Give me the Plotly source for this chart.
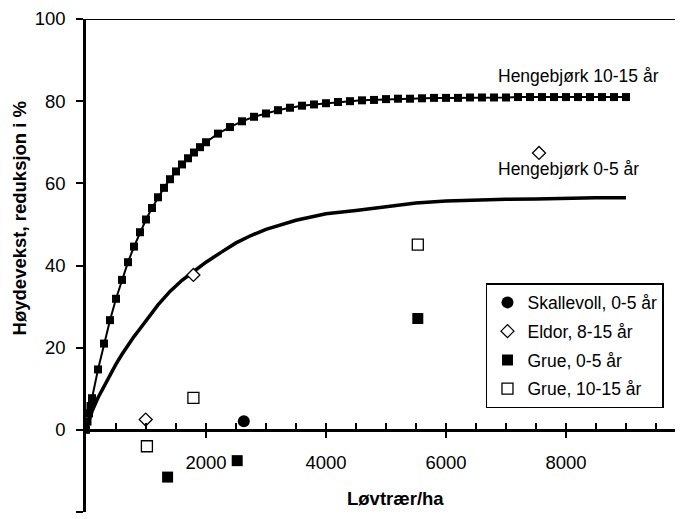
import plotly.graph_objects as go

# Hengebjørk 10-15 år (line with square markers)
x_upper = [0, 25, 50, 75, 100, 200, 300, 400, 500, 600, 700, 800, 900, 1000,
           1100, 1200, 1300, 1400, 1500, 1600, 1700, 1800, 1900, 2000,
           2200, 2400, 2600, 2800, 3000, 3200, 3400, 3600, 3800, 4000,
           4200, 4400, 4600, 4800, 5000, 5200, 5400, 5600, 5800, 6000,
           6200, 6400, 6600, 6800, 7000, 7200, 7400, 7600, 7800, 8000,
           8200, 8400, 8600, 8800, 9000]
y_upper = [0, 2.0, 4.0, 5.8, 7.7, 14.7, 21.0, 26.7, 31.9, 36.5, 40.8, 44.6, 48.1, 51.2,
           54.0, 56.6, 58.9, 61.0, 62.9, 64.6, 66.1, 67.5, 68.8, 70.0,
           72.1, 73.7, 75.1, 76.2, 77.0, 77.8, 78.4, 78.9, 79.2, 79.5,
           79.8, 80.0, 80.2, 80.3, 80.5, 80.6, 80.6, 80.7, 80.8, 80.8,
           80.8, 80.9, 80.9, 80.9, 80.9, 81.0, 81.0, 81.0, 81.0, 81.0,
           81.0, 81.0, 81.0, 81.0, 81.0]

# Hengebjørk 0-5 år (thick line)
x_lower = [0, 100, 200, 300, 400, 500, 600, 700, 800, 900, 1000, 1200, 1400, 1600,
           1800, 2000, 2250, 2500, 2750, 3000, 3500, 4000, 4500, 5000, 5500, 6000,
           6500, 7000, 7500, 8000, 8500, 9000]
y_lower = [0, 4.5, 7.8, 10.6, 13.4, 16.0, 18.4, 20.6, 22.7, 24.6, 26.6, 30.4, 33.7, 36.4,
           38.6, 40.8, 43.2, 45.5, 47.3, 48.8, 51.0, 52.6, 53.4, 54.2, 55.2, 55.7,
           56.0, 56.1, 56.2, 56.4, 56.5, 56.5]

# Observations
skallevoll_x = [2630]
skallevoll_y = [2.1]
eldor_x = [995, 1790, 7550]
eldor_y = [2.5, 37.7, 67.4]
grue05_x = [1360, 2520, 5530]
grue05_y = [-11.5, -7.5, 27.1]
grue1015_x = [1015, 1790, 5530]
grue1015_y = [-4.0, 7.8, 45.1]

x_major_ticks = [2000, 4000, 6000, 8000]

FONT = "Liberation Sans, Arial, sans-serif"

fig = go.Figure()
fig.add_trace(go.Scatter(x=x_upper, y=y_upper, mode="lines+markers",
                         line=dict(color="black", width=2),
                         marker=dict(symbol="square", size=8, color="black"),
                         showlegend=False, hoverinfo="skip"))
fig.add_trace(go.Scatter(x=x_lower, y=y_lower, mode="lines",
                         line=dict(color="black", width=3.5),
                         showlegend=False, hoverinfo="skip"))
fig.add_trace(go.Scatter(x=skallevoll_x, y=skallevoll_y, mode="markers",
                         name="Skallevoll, 0-5 år", legendgroup="a",
                         marker=dict(symbol="circle", size=12, color="black")))
fig.add_trace(go.Scatter(x=eldor_x, y=eldor_y, mode="markers",
                         name="Eldor, 8-15 år", legendgroup="b",
                         marker=dict(symbol="diamond", size=10, color="white",
                                     line=dict(color="black", width=1.3))))
fig.add_trace(go.Scatter(x=grue05_x, y=grue05_y, mode="markers",
                         name="Grue, 0-5 år", legendgroup="c",
                         marker=dict(symbol="square", size=11, color="black")))
fig.add_trace(go.Scatter(x=grue1015_x, y=grue1015_y, mode="markers",
                         name="Grue, 10-15 år", legendgroup="d",
                         marker=dict(symbol="square", size=11, color="white",
                                     line=dict(color="black", width=1.3))))
# empty trace so the overlay axis (upper half of crossing major ticks) exists
fig.add_trace(go.Scatter(x=[], y=[], xaxis="x2", showlegend=False, hoverinfo="skip"))

xmax = 9950
fig.update_layout(
    width=675, height=511,
    margin=dict(l=78, r=0, t=11, b=7),
    paper_bgcolor="white", plot_bgcolor="white",
    font=dict(family=FONT, color="black"),
    xaxis=dict(range=[0, xmax], showline=True, linewidth=2.5, linecolor="black",
               anchor="free", position=1/6,
               tickvals=x_major_ticks, ticks="outside", ticklen=6, tickwidth=2,
               tickcolor="black",
               minor=dict(tick0=0, dtick=500, ticks="inside", ticklen=6,
                          tickwidth=1.5, tickcolor="black", showgrid=False),
               showgrid=False, zeroline=False,
               tickfont=dict(size=18.5, family=FONT, color="black"),
               ticklabelstandoff=9),
    xaxis2=dict(range=[0, xmax], overlaying="x", anchor="free", position=1/6,
                showline=False, tickvals=x_major_ticks, ticks="inside", ticklen=6,
                tickwidth=2, tickcolor="black", showticklabels=False,
                showgrid=False, zeroline=False),
    yaxis=dict(range=[-20, 100], tick0=0, dtick=20, showline=True, linewidth=2.5,
               linecolor="black", ticks="outside", ticklen=7, tickwidth=2,
               tickcolor="black", showgrid=False, zeroline=False,
               tickfont=dict(size=18.5, family=FONT, color="black"),
               ticklabelstandoff=7),
    legend=dict(x=0.67, y=0.4645, xanchor="left", yanchor="top",
                bordercolor="black", borderwidth=1.5, bgcolor="white",
                font=dict(size=17.5, family=FONT, color="black"),
                entrywidth=158, tracegroupgap=3),
    showlegend=True,
)

fig.add_shape(type="line", xref="paper", yref="y", x0=0, x1=1, y0=100, y1=100,
              line=dict(color="black", width=2))

fig.add_annotation(text="<b>Høydevekst, reduksjon i %</b>", textangle=-90,
                   xref="paper", yref="y", x=-0.112, y=51.5, xanchor="center",
                   yanchor="middle", showarrow=False,
                   font=dict(size=18.5, family=FONT, color="black"))
fig.add_annotation(text="<b>Løvtrær/ha</b>", xref="x", yref="paper",
                   x=5150, y=(512 - 498) / 493, xanchor="center", yanchor="middle",
                   showarrow=False, font=dict(size=18.5, family=FONT, color="black"))
fig.add_annotation(text="Hengebjørk 10-15 år", xref="x", yref="y", x=6833, y=86.2,
                   xanchor="left", yanchor="middle", showarrow=False,
                   font=dict(size=17.5, family=FONT, color="black"))
fig.add_annotation(text="Hengebjørk 0-5 år", xref="x", yref="y", x=6833, y=63.4,
                   xanchor="left", yanchor="middle", showarrow=False,
                   font=dict(size=17.5, family=FONT, color="black"))

fig.write_html("out.html")
